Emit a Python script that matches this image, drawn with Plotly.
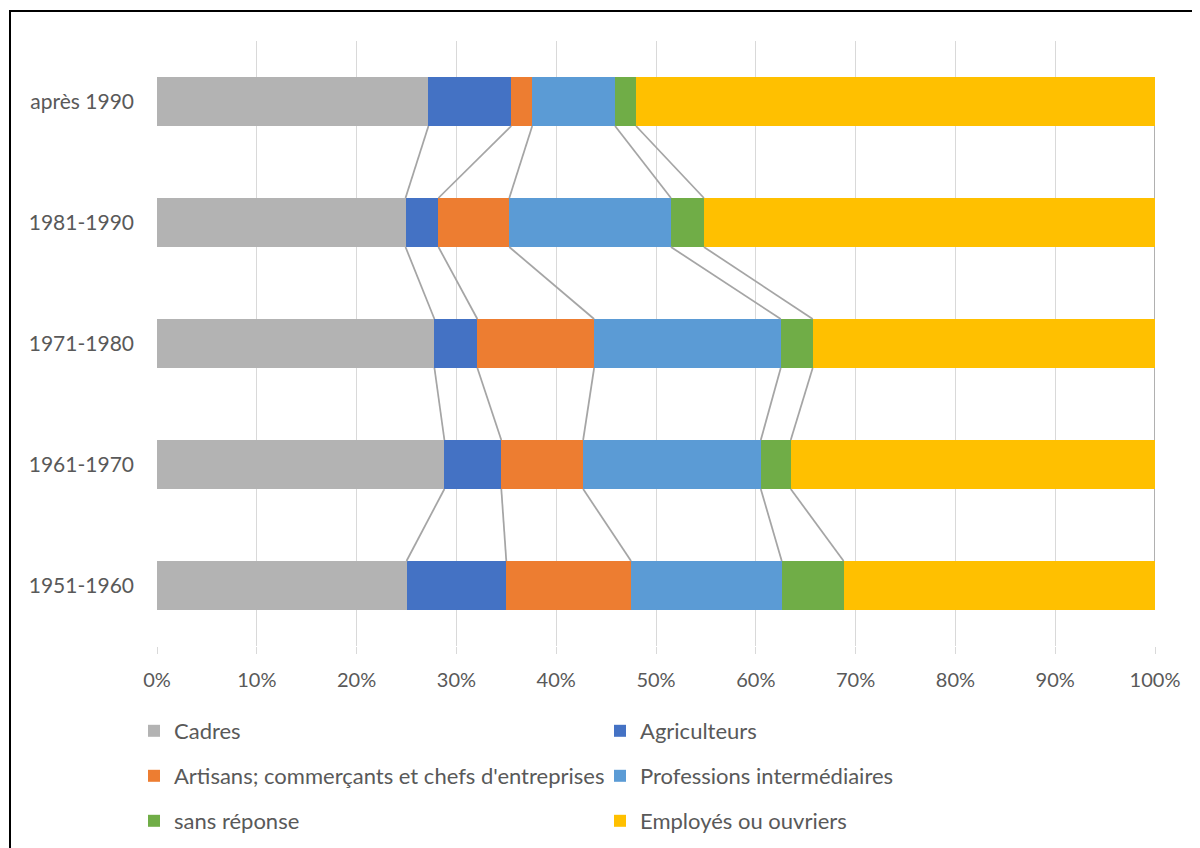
import plotly.graph_objects as go

categories = ["1951-1960", "1961-1970", "1971-1980", "1981-1990", "après 1990"]
series_names = ["Cadres", "Agriculteurs", "Artisans; commerçants et chefs d'entreprises",
                "Professions intermédiaires", "sans réponse", "Employés ou ouvriers"]
cadres = [25.0, 28.8, 27.8, 24.9, 27.2]
agriculteurs = [10.0, 5.7, 4.3, 3.3, 8.3]
artisans = [12.5, 8.2, 11.7, 7.1, 2.1]
professions = [15.1, 17.8, 18.7, 16.2, 8.3]
sans_reponse = [6.2, 3.0, 3.2, 3.3, 2.1]
employes = [31.2, 36.5, 34.3, 45.2, 52.0]
tick_vals = [0, 10, 20, 30, 40, 50, 60, 70, 80, 90, 100]
tick_text = ["0%", "10%", "20%", "30%", "40%", "50%", "60%", "70%", "80%", "90%", "100%"]

colors = ["#B3B3B3", "#4472C4", "#ED7D31", "#5B9BD5", "#70AD47", "#FFC000"]
series = [cadres, agriculteurs, artisans, professions, sans_reponse, employes]

FONT = "Lato"
W, H = 1200, 848
OFF = 8  # page body margin
L, R, T, B = 149, 53, 33, 210
BAR_W = 0.405
ypos = list(range(len(categories)))

fig = go.Figure()
legends = ["legend", "legend", "legend2", "legend2", "legend3", "legend3"]
for name, vals, col, lg in zip(series_names, series, colors, legends):
    fig.add_trace(go.Bar(
        name=name, y=ypos, x=vals, orientation="h", width=BAR_W,
        marker=dict(color=col, line=dict(width=0)), legend=lg,
    ))

# series lines connecting cumulative ends of adjacent bars
cum = [0.0] * len(categories)
for vals in series:
    cum = [c + v for c, v in zip(cum, vals)]
    xs, ys = [], []
    for k in range(len(categories) - 1):
        xs += [cum[k], cum[k + 1], None]
        ys += [k + BAR_W / 2, k + 1 - BAR_W / 2, None]
    fig.add_trace(go.Scatter(x=xs, y=ys, mode="lines", line=dict(color="#A5A5A5", width=1.75),
                             showlegend=False, hoverinfo="skip"))

pw = W - L - R
ph = H - T - B
bx, by = 10 - OFF, 11 - OFF
fig.add_shape(type="rect", xref="paper", yref="paper",
              x0=(bx - L) / pw, x1=(1260 - L) / pw,
              y0=1 - (900 - T) / ph, y1=1 + (T - by) / ph,
              line=dict(color="black", width=2), fillcolor="rgba(0,0,0,0)", layer="above")

leg_common = dict(orientation="h", xref="container", yref="container", x=126 / W,
                  xanchor="left", yanchor="middle", entrywidth=421, entrywidthmode="pixels",
                  font=dict(family=FONT, size=22, color="#595959"), bgcolor="rgba(0,0,0,0)",
                  traceorder="normal")
fig.update_layout(
    width=W, height=H,
    margin=dict(l=L, r=R, t=T, b=B),
    plot_bgcolor="white", paper_bgcolor="white",
    barmode="stack",
    font=dict(family=FONT, size=20, color="#595959"),
    xaxis=dict(range=[0, 100], tickvals=tick_vals, ticktext=tick_text, showgrid=True,
               gridcolor="#D9D9D9", gridwidth=1, zeroline=False, showline=False,
               ticks="outside", ticklen=7, tickcolor="#D9D9D9", ticklabelstandoff=9,
               tickfont=dict(family=FONT, size=20, color="#595959")),
    yaxis=dict(range=[-0.5, 4.5], tickvals=ypos, ticktext=categories, showgrid=False,
               zeroline=False, showline=False, ticks="", ticklabelstandoff=22,
               tickfont=dict(family=FONT, size=21, color="#595959")),
    legend=dict(y=1 - (731 - OFF) / H, **leg_common),
    legend2=dict(y=1 - (776 - OFF) / H, **leg_common),
    legend3=dict(y=1 - (821 - OFF) / H, **leg_common),
    hovermode=False,
)

fig.write_html("out.html")
